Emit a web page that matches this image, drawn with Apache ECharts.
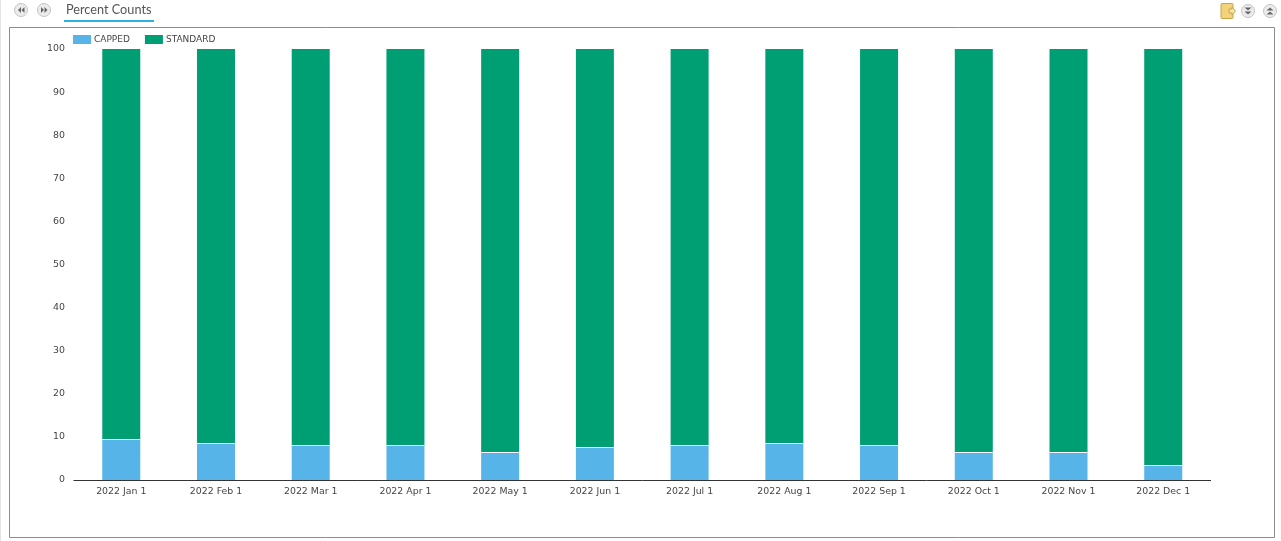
<!DOCTYPE html>
<html><head><meta charset="utf-8">
<style>html,body{margin:0;padding:0;background:#fff}#c{width:1281px;height:541px}</style>
<script src="https://cdn.jsdelivr.net/npm/echarts@6/dist/echarts.min.js"></script>
</head><body><div id="c"></div>
<script>
const categories = ['2022 Jan 1','2022 Feb 1','2022 Mar 1','2022 Apr 1','2022 May 1','2022 Jun 1','2022 Jul 1','2022 Aug 1','2022 Sep 1','2022 Oct 1','2022 Nov 1','2022 Dec 1'];
const capped = [9.28,8.35,7.89,7.89,6.26,7.42,7.89,8.35,7.89,6.26,6.26,3.25];
const standard = [90.72,91.65,92.11,92.11,93.74,92.58,92.11,91.65,92.11,93.74,93.74,96.75];
const titleText = 'Percent Counts';
const F = 'DejaVu Sans';
const chart = echarts.init(document.getElementById('c'), null, {renderer:'canvas'});

function roundBtn(cx, cy, kids){
  return [
    {type:'circle',shape:{cx,cy,r:6.5},style:{fill:'#ececec',stroke:'#c4c4c4',lineWidth:1},silent:true},
    ...kids
  ];
}
function tri(pts){return {type:'polygon',shape:{points:pts},style:{fill:'#666'},silent:true};}

chart.setOption({
  animation:false,
  backgroundColor:'#fff',
  graphic:{elements:[
    {type:'rect',shape:{x:0,y:0,width:1,height:541},style:{fill:'#e3e3e3'},silent:true},
    {type:'rect',shape:{x:9.5,y:27.5,width:1265,height:510},style:{fill:'none',stroke:'#8c8c8c',lineWidth:1},silent:true},
    {type:'text',x:66,y:3.5,style:{text:titleText,font:'12.7px Lato',fill:'#555'},silent:true},
    {type:'rect',shape:{x:64,y:20,width:90,height:2},style:{fill:'#2fb1e0'},silent:true},
    ...roundBtn(21,10,[tri([[21,7],[21,13],[18,10]]),tri([[24.5,7],[24.5,13],[21.5,10]])]),
    ...roundBtn(44,10,[tri([[41,7],[41,13],[44,10]]),tri([[44.5,7],[44.5,13],[47.5,10]])]),
    {type:'rect',shape:{x:1221,y:3.5,width:12,height:15,r:1},style:{fill:'#f2d27a',stroke:'#c9a54a',lineWidth:1},silent:true},
    {type:'polygon',shape:{points:[[1229,9],[1232,9],[1232,7],[1235.5,11],[1232,15],[1232,13],[1229,13]]},style:{fill:'#f7e3a6',stroke:'#c9a54a',lineWidth:1},silent:true},
    ...roundBtn(1248,11,[tri([[1244.5,7.5],[1251.5,7.5],[1248,10.5]]),tri([[1244.5,11.5],[1251.5,11.5],[1248,14.5]])]),
    ...roundBtn(1270,11,[tri([[1266.5,10.5],[1273.5,10.5],[1270,7.5]]),tri([[1266.5,14.5],[1273.5,14.5],[1270,11.5]])])
  ]},
  legend:{
    left:73,top:35,padding:0,itemWidth:18,itemHeight:9,itemGap:15,
    icon:'rect',selectedMode:false,
    textStyle:{fontFamily:F,fontSize:9,color:'#444',padding:[0,0,0,-2]},
    data:['CAPPED','STANDARD']
  },
  grid:{left:73.9,right:70.4,top:49,bottom:61,containLabel:false},
  xAxis:{
    type:'category',data:categories,
    axisLine:{show:true,lineStyle:{color:'#333',width:1}},
    axisTick:{show:false},
    axisLabel:{fontFamily:F,fontSize:9.4,color:'#444',margin:7,interval:0}
  },
  yAxis:{
    type:'value',min:0,max:100,interval:10,
    axisLine:{show:false},axisTick:{show:false},splitLine:{show:false},
    axisLabel:{fontFamily:F,fontSize:9.4,color:'#444',margin:9,padding:[4,0,0,0]}
  },
  series:[
    {name:'CAPPED',type:'bar',stack:'s',data:capped,barWidth:38,z:3,itemStyle:{color:'#56b4e9',shadowColor:'#fff',shadowBlur:0,shadowOffsetY:-1}},
    {name:'STANDARD',type:'bar',stack:'s',data:standard,barWidth:38,z:2,itemStyle:{color:'#009e73'}}
  ]
});
</script></body></html>
